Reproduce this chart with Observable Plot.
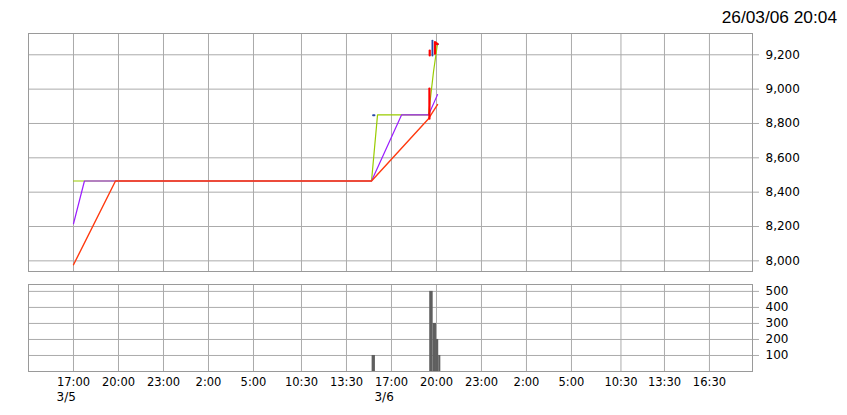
<!DOCTYPE html>
<html>
<head>
<meta charset="utf-8">
<script src="https://cdn.jsdelivr.net/npm/d3@7"></script>
<script src="https://cdn.jsdelivr.net/npm/@observablehq/plot@0.6"></script>
<style>
  html, body { margin: 0; padding: 0; background: #fff; }
  #chart { position: relative; width: 847px; height: 415px; overflow: hidden; }
  #title { position: absolute; right: 10px; top: 8px; font: 17.3px "Liberation Sans", Arial, sans-serif; color: #000; line-height: 18px; white-space: nowrap; }
  #chart svg { position: absolute; left: 0; }
</style>
</head>
<body>
<div id="chart"><div id="title">26/03/06 20:04</div></div>
<script>
// ---- data (x in compressed session hours, 0 = 17:00 on 3/5) ----
const tickLabels = ["17:00","20:00","23:00","2:00","5:00","10:30","13:30","17:00","20:00","23:00","2:00","5:00","10:30","13:30","16:30"];
const tickPos    = [0, 3, 6, 9, 12, 15.2, 18.2, 21.2, 24.2, 27.2, 30.2, 33.2, 36.5, 39.4, 42.4];
const dateLabels = ["3/5", "3/6"];
const datePos    = [0, 21.2];
const priceTicks = [8000, 8200, 8400, 8600, 8800, 9000, 9200];
const volumeTicks = [100, 200, 300, 400, 500];

const greenTime  = [0, 19.87, 20.27, 23.67, 24.0, 24.27];
const greenPrice = [8465, 8465, 8850, 8850, 9100, 9266];

const purpleTime  = [0, 0.73, 19.87, 21.87, 23.67, 24.27];
const purplePrice = [8216, 8465, 8465, 8850, 8850, 8968];

const orangeTime  = [0, 2.8, 19.87, 23.67, 24.27];
const orangePrice = [7977, 8465, 8465, 8828, 8910];

const redTime  = [23.73, 23.73, 23.75, 23.75, 24.1, 24.1, 24.27];
const redPrice = [8828, 9003, 9196, 9225, 9206, 9274, 9262];
const redSeg   = [1, 1, 2, 2, 3, 3, 3];

const blueTime  = [19.97, 20.07, 23.93, 23.93, 24.2, 24.3];
const bluePrice = [8848, 8848, 9196, 9283, 9262, 9262];
const blueSeg   = [1, 1, 2, 2, 3, 3];

const volStart = [19.91, 23.75, 23.98, 24.2, 24.35];
const volEnd   = [20.13, 23.98, 24.2, 24.35, 24.49];
const volume   = [100, 500, 300, 200, 100];

// ---- styling ----
const gridColor = "#ababab";
const frameColor = "#9a9a9a";
const xDomain = [-3, 45.27];
const font = "DejaVu Sans, Verdana, sans-serif";

const chartEl = document.getElementById("chart");

const pricePlot = Plot.plot({
  width: 847, height: 280,
  marginTop: 33, marginBottom: 9, marginLeft: 28, marginRight: 95,
  style: {fontFamily: font, fontSize: "12px", background: "transparent", overflow: "visible"},
  x: {domain: xDomain, axis: null},
  y: {domain: [7938, 9324], axis: null},
  marks: [
    Plot.ruleX(tickPos, {stroke: gridColor}),
    Plot.ruleY(priceTicks, {stroke: gridColor}),
    Plot.axisY(priceTicks, {anchor: "right", tickSize: 6, tickPadding: 7, tickFormat: d3.format(","), stroke: gridColor, fill: "#000", fontSize: 12}),
    Plot.frame({stroke: frameColor}),
    Plot.line(greenPrice, {x: greenTime, y: d => d, stroke: "#99cc00", strokeWidth: 1.2}),
    Plot.line(purplePrice, {x: purpleTime, y: d => d, stroke: "#9a1cff", strokeWidth: 1.2}),
    Plot.line(orangePrice, {x: orangeTime, y: d => d, stroke: "#ff3a10", strokeWidth: 1.4}),
    Plot.line(bluePrice, {x: blueTime, y: d => d, z: blueSeg, stroke: "#2a4aa8", strokeWidth: 1.8}),
    Plot.line(redPrice, {x: redTime, y: d => d, z: redSeg, stroke: "#ff0000", strokeWidth: 2.2})
  ]
});
pricePlot.style.top = "0px";
chartEl.appendChild(pricePlot);

const volumePlot = Plot.plot({
  width: 847, height: 135,
  marginTop: 4, marginBottom: 44, marginLeft: 28, marginRight: 95,
  style: {fontFamily: font, fontSize: "12px", background: "transparent", overflow: "visible"},
  x: {domain: xDomain, axis: null},
  y: {domain: [0, 543], axis: null},
  marks: [
    Plot.ruleX(tickPos, {stroke: gridColor}),
    Plot.ruleY(volumeTicks, {stroke: gridColor}),
    Plot.axisY(volumeTicks, {anchor: "right", tickSize: 6, tickPadding: 7, stroke: gridColor, fill: "#000", fontSize: 12}),
    Plot.rectY(volume, {x1: volStart, x2: volEnd, y1: 0, y2: d => d, fill: "#5f5f5f", inset: 0}),
    Plot.frame({stroke: frameColor}),
    Plot.text(tickLabels, {x: tickPos, text: d => d, frameAnchor: "bottom", lineAnchor: "top", dy: 6, fontSize: 11.5, fill: "#000"}),
    Plot.text(dateLabels, {x: datePos, text: d => d, frameAnchor: "bottom", lineAnchor: "top", dy: 21, dx: -17, textAnchor: "start", fontSize: 12, fill: "#000"})
  ]
});
volumePlot.style.top = "280px";
chartEl.appendChild(volumePlot);
</script>
</body>
</html>
